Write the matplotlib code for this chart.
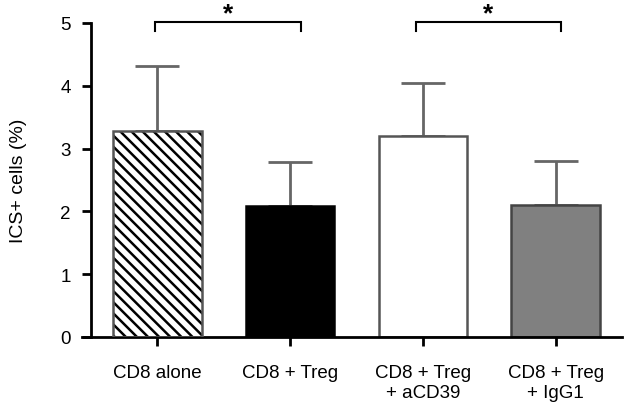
import matplotlib
matplotlib.use("Agg")
import matplotlib.pyplot as plt
import numpy as np

plt.rcParams['font.family'] = ['Liberation Sans', 'DejaVu Sans']
plt.rcParams['hatch.linewidth'] = 1.8
plt.rcParams['hatch.color'] = 'black'

categories = ["CD8 alone", "CD8 + Treg", "CD8 + Treg\n+ aCD39", "CD8 + Treg\n+ IgG1"]
means = [3.28, 2.08, 3.20, 2.10]
err_upper = [1.04, 0.70, 0.84, 0.71]
fills = ["white", "black", "white", "#808080"]
edges = ["#555555", "black", "#555555", "#444444"]
hatches = ["\\\\\\", None, None, None]
yticks = [0, 1, 2, 3, 4, 5]

fig = plt.figure(figsize=(6.28, 4.06), dpi=100)
ax = fig.add_axes([91/628, (406-338)/406, (622-91)/628, (338-24)/406])

x = np.arange(len(categories))
for i in range(len(categories)):
    if hatches[i]:
        ax.bar(x[i], means[i], width=0.665, color=fills[i], edgecolor='black',
               linewidth=0, hatch=hatches[i], zorder=2)
        ax.bar(x[i], means[i], width=0.665, fill=False, edgecolor=edges[i],
               linewidth=1.8, zorder=3)
    else:
        ax.bar(x[i], means[i], width=0.665, color=fills[i], edgecolor=edges[i],
               linewidth=1.8, zorder=2)
    ax.errorbar(x[i], means[i], yerr=[[0], [err_upper[i]]], fmt='none',
                ecolor="#666666", elinewidth=2, capsize=15.5, capthick=2, zorder=1)

ax.set_xlim(-0.5, 3.5)
ax.set_ylim(0, 5)
ax.set_yticks(yticks)
ax.set_xticks(x)
ax.set_xticklabels(categories, fontsize=13.5)
ax.tick_params(axis='y', labelsize=13.5, width=2, length=6.5, pad=8)
ax.tick_params(axis='x', width=2, length=6.5, pad=13)
for s in ['top', 'right']:
    ax.spines[s].set_visible(False)
for s in ['left', 'bottom']:
    ax.spines[s].set_linewidth(2)
ax.spines['bottom'].set_bounds(-0.57, 3.5)
ax.set_ylabel("ICS+ cells (%)", fontsize=14, labelpad=24)

# significance brackets
brackets = [(-0.015, 1.08), (1.95, 3.04)]
for x0, x1 in brackets:
    ax.plot([x0, x0, x1, x1], [4.87, 5.02, 5.02, 4.87], color='black', lw=1.5,
            clip_on=False, solid_joinstyle='miter')
    ax.text((x0 + x1) / 2, 5.04, "*", ha='center', va='baseline', fontsize=19,
            fontweight='bold')

fig.savefig("out.png", dpi=100)
